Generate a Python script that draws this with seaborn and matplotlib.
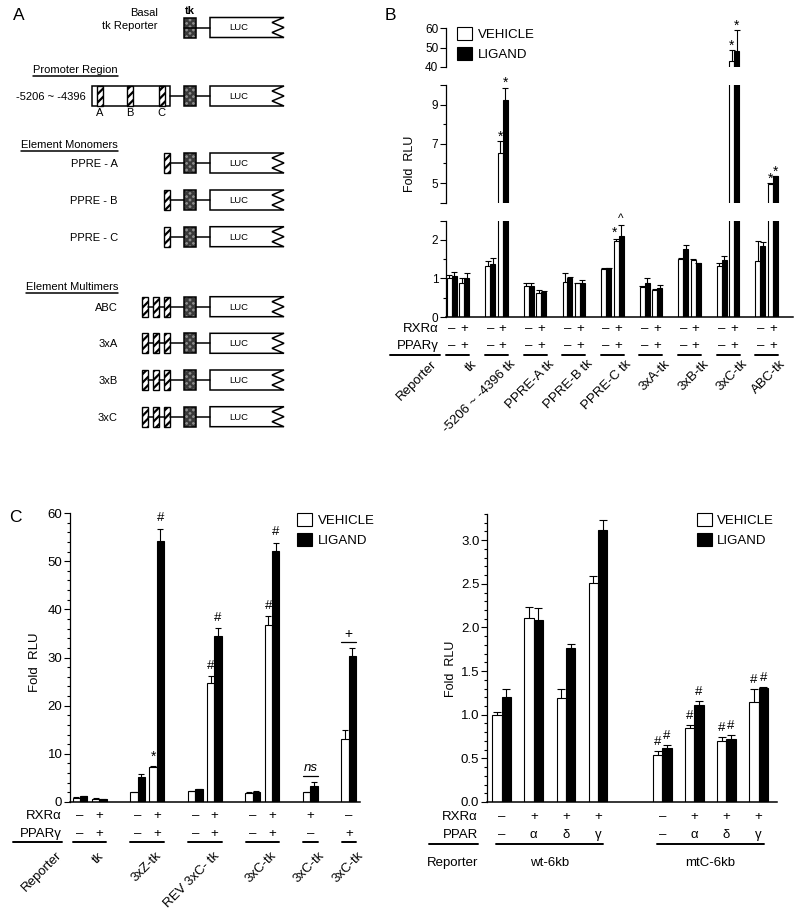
import numpy as np
import pandas as pd
import seaborn as sns
import matplotlib.pyplot as plt
from matplotlib.patches import Rectangle, Polygon
from matplotlib.transforms import blended_transform_factory as blend, offset_copy

# ---------------- data ----------------
# panel B: per reporter two conditions (RXRa, PPARg) = (-,-) then (+,+)
reporters_B = ["tk", "-5206 ~ -4396 tk", "PPRE-A tk", "PPRE-B tk", "PPRE-C tk",
               "3xA-tk", "3xB-tk", "3xC-tk", "ABC-tk"]
pairs_B = [2] * 9
rxr_B = ["–", "+"] * 9
ppar_B = ["–", "+"] * 9
vehicle_B = [1.00, 0.89, 1.33, 6.54, 0.80, 0.63, 0.92, 0.87, 1.24, 1.97,
             0.78, 0.71, 1.51, 1.49, 1.32, 43.0, 1.45, 4.93]
vehicle_err_B = [0.08, 0.11, 0.13, 0.59, 0.07, 0.06, 0.21, 0.01, 0.04, 0.05,
                 0.03, 0.02, 0.01, 0.01, 0.08, 5.8, 0.52, 0.05]
ligand_B = [1.07, 1.00, 1.38, 9.25, 0.80, 0.64, 1.02, 0.89, 1.26, 2.11,
            0.87, 0.74, 1.77, 1.39, 1.47, 48.0, 1.84, 5.34]
ligand_err_B = [0.10, 0.13, 0.14, 0.62, 0.09, 0.03, 0.03, 0.08, 0.01, 0.27,
                0.14, 0.08, 0.09, 0.01, 0.11, 11.0, 0.11, 0.03]
marks_B = [(3, 0, "*"), (3, 1, "*"), (9, 0, "*"), (9, 1, "^"),
           (15, 0, "*"), (15, 1, "*"), (17, 0, "*"), (17, 1, "*")]

# panel C left
reporters_CL = ["tk", "3xZ-tk", "REV 3xC- tk", "3xC-tk", "3xC-tk", "3xC-tk"]
pairs_CL = [2, 2, 2, 2, 1, 1]
rxr_CL = ["–", "+", "–", "+", "–", "+", "–", "+", "+", "–"]
ppar_CL = ["–", "+", "–", "+", "–", "+", "–", "+", "–", "+"]
vehicle_CL = [0.9, 0.7, 2.05, 7.3, 2.25, 24.7, 1.95, 36.7, 2.0, 13.0]
vehicle_err_CL = [0.05, 0.05, 0.1, 0.15, 0.1, 1.4, 0.1, 1.9, 0.1, 1.9]
ligand_CL = [1.24, 0.6, 5.25, 54.1, 2.6, 34.4, 2.1, 52.1, 3.4, 30.4]
ligand_err_CL = [0.1, 0.05, 0.55, 2.6, 0.1, 1.7, 0.1, 1.7, 0.8, 1.5]
marks_CL = [(3, 0, "*"), (3, 1, "#"), (5, 0, "#"), (5, 1, "#"), (7, 0, "#"), (7, 1, "#")]
brackets_CL = [(8, "ns"), (9, "+")]

# panel C right
reporters_CR = ["wt-6kb", "mtC-6kb"]
pairs_CR = [4, 4]
rxr_CR = ["–", "+", "+", "+"] * 2
ppar_CR = ["–", "α", "δ", "γ"] * 2
vehicle_CR = [1.00, 2.11, 1.19, 2.51, 0.54, 0.85, 0.70, 1.15]
vehicle_err_CR = [0.03, 0.12, 0.11, 0.08, 0.05, 0.03, 0.04, 0.15]
ligand_CR = [1.20, 2.08, 1.77, 3.12, 0.62, 1.11, 0.72, 1.31]
ligand_err_CR = [0.09, 0.14, 0.04, 0.11, 0.03, 0.05, 0.05, 0.01]
marks_CR = [(i, t, "#") for i in range(4, 8) for t in (0, 1)]

# ---------------- style ----------------
sns.set_style("ticks", {"axes.edgecolor": "black", "text.color": "black",
                        "xtick.color": "black", "ytick.color": "black"})
plt.rcParams['font.family'] = ['Liberation Sans', 'DejaVu Sans']
plt.rcParams['hatch.linewidth'] = 1.6

FS = 9.5  # labels under the bars, legends
W, H = 800, 910
fig = plt.figure(figsize=(8, 9.1), dpi=100)
canvas = fig.add_axes([0, 0, 1, 1])
canvas.set_xlim(0, W)
canvas.set_ylim(H, 0)
canvas.axis('off')


def px_axes(left, top, right, bottom):
    ax = fig.add_axes([left / W, 1 - bottom / H, (right - left) / W, (bottom - top) / H])
    ax.set_facecolor('none')
    return ax


def slots(sizes, gap):
    pos, start, groups = [], 0.0, []
    for n in sizes:
        groups.append(list(range(len(pos), len(pos) + n)))
        pos += [start + k for k in range(n)]
        start += n - 1 + gap
    return np.array(pos), groups


def draw_bars(ax, pos, veh, veh_err, lig, lig_err, width, cap, lw=0.8):
    df = pd.DataFrame({"pos": np.r_[pos, pos], "fold": np.r_[veh, lig],
                       "treat": ["VEHICLE"] * len(pos) + ["LIGAND"] * len(pos)})
    sns.barplot(data=df, x="pos", y="fold", hue="treat", hue_order=["VEHICLE", "LIGAND"],
                palette={"VEHICLE": "white", "LIGAND": "black"}, native_scale=True,
                width=width, errorbar=None, edgecolor="black", linewidth=lw,
                saturation=1, legend=False, ax=ax)
    bars = list(ax.containers[:2])
    centers, tops = [], []
    for cont, err in zip(bars, [veh_err, lig_err]):
        xs = np.array([p.get_x() + p.get_width() / 2 for p in cont])
        ys = np.array([p.get_height() for p in cont])
        top = ys + np.array(err)
        # one-sided (upper) error bars with a cap
        ax.vlines(xs, ys, top, color="black", lw=lw)
        ax.plot(xs, top, ls="none", marker="_", ms=cap, mew=lw, color="black")
        centers.append(xs)
        tops.append(top)
    ax.set(xlabel="", ylabel="")
    ax.tick_params(axis='x', bottom=False, labelbottom=False)
    return centers, tops


def style_y(ax, major, labels, minor=None, fs=9):
    ax.set_yticks(major)
    ax.set_yticklabels(labels)
    if minor is not None:
        ax.set_yticks(minor, minor=True)
    ax.tick_params(axis='y', which='major', direction='out', length=4, width=0.8, labelsize=fs, pad=1.5)
    ax.tick_params(axis='y', which='minor', direction='out', length=2.2, width=0.8)
    for s in ax.spines.values():
        s.set_linewidth(0.9)


def cond_rows(ax, pos, groups, rows, label_x, line_y, label_line, pad, fs=FS):
    tr = blend(ax.transData, canvas.transData)
    for label, y, vals in rows:
        canvas.text(label_x, y, label, ha='right', va='center', fontsize=fs)
        for x, v in zip(pos, vals):
            ax.text(x, y, v, transform=tr, ha='center', va='center', fontsize=fs)
    canvas.plot(label_line, [line_y, line_y], color='k', lw=1.4)
    for g in groups:
        ax.plot([pos[g[0]] - pad[0], pos[g[-1]] + pad[1]], [line_y, line_y], transform=tr,
                color='k', lw=1.4, clip_on=False)


def rotated_names(ax, pos, groups, names, y, dx, fs=FS):
    tr = offset_copy(blend(ax.transData, canvas.transData), fig=fig, x=dx, y=0, units='dots')
    for g, name in zip(groups, names):
        xc = (pos[g[0]] + pos[g[-1]]) / 2
        ax.text(xc, y, name, transform=tr, rotation=45, rotation_mode='anchor',
                ha='right', va='top', fontsize=fs)


def mark(ax, x, y, s, dy, dx=0, fs=9.5, style='normal'):
    ax.annotate(s, (x, y), xytext=(dx, dy), textcoords='offset pixels',
                ha='center', va='center', fontsize=fs, style=style, annotation_clip=False)


def legend_at(ax, x, y, fs=FS):
    hs = 10.8 / fs
    fig.legend(ax.containers[:2], ["VEHICLE", "LIGAND"], loc='upper left',
               bbox_to_anchor=(x / W, 1 - y / H), frameon=False, fontsize=fs,
               handlelength=hs, handleheight=hs, labelspacing=(15.5 - 10.8) / fs,
               handletextpad=0.42, borderpad=0, borderaxespad=0)


# ---------------- panel A : construct diagrams ----------------
LW = 1.1


def luc(y):
    pts = [(210, y - 10), (284, y - 10), (272, y - 5), (284, y), (272, y + 5),
           (284, y + 10), (210, y + 10)]
    canvas.add_patch(Polygon(pts, closed=True, fc='white', ec='black', lw=LW))
    canvas.text(239, y + 0.5, "LUC", fontsize=6.8, ha='center', va='center')


def tk_box(y):
    canvas.add_patch(Rectangle((184, y - 10), 12, 20, fc='#8c8c8c', ec='#3a3a3a', lw=0,
                               hatch='xxxxx'))
    canvas.add_patch(Rectangle((184, y - 10), 12, 20, fc='none', ec='black', lw=LW))


def element(x, y, w=6.5):
    canvas.add_patch(Rectangle((x, y - 10), w, 20, fc='white', ec='black', lw=LW * 0.9,
                               hatch='////'))


def link(x1, x2, y):
    canvas.plot([x1, x2], [y, y], color='black', lw=LW)


def reporter(y, left):
    link(left, 184, y)
    tk_box(y)
    link(196, 210, y)
    luc(y)


canvas.text(13, 15, "A", fontsize=12.5, ha='left', va='center')
canvas.text(385, 15, "B", fontsize=12.5, ha='left', va='center')
canvas.text(9, 518, "C", fontsize=12.5, ha='left', va='center')

canvas.text(158, 13, "Basal", fontsize=8, ha='right', va='center')
canvas.text(158, 26, "tk Reporter", fontsize=8, ha='right', va='center')
canvas.text(190, 11, "tk", fontsize=8, ha='center', va='center', weight='bold')
reporter(27.5, 196)

headings = [("Promoter Region", 70), ("Element Monomers", 145), ("Element Multimers", 287)]
head_texts = [canvas.text(118, y, t, fontsize=8, ha='right', va='center') for t, y in headings]

y_prom = 96
canvas.text(86, y_prom + 1, "-5206 ~ -4396", fontsize=8, ha='right', va='center')
canvas.add_patch(Rectangle((92, y_prom - 10), 78, 20, fc='white', ec='black', lw=LW))
for xe, lab in [(96.5, "A"), (126.5, "B"), (158.5, "C")]:
    element(xe, y_prom, 6)
    canvas.text(xe + 3, y_prom + 17, lab, fontsize=8, ha='center', va='center')
reporter(y_prom, 170)

for lab, y in [("PPRE - A", 163), ("PPRE - B", 200), ("PPRE - C", 236.7)]:
    canvas.text(118, y + 1, lab, fontsize=8, ha='right', va='center')
    element(163.5, y)
    reporter(y, 170)

for lab, y in [("ABC", 306.7), ("3xA", 343.3), ("3xB", 380), ("3xC", 416.7)]:
    canvas.text(118, y + 1, lab, fontsize=8, ha='right', va='center')
    for xe in (141.5, 152.5, 163.5):
        element(xe, y, 6)
    link(147.5, 152.5, y)
    link(158.5, 163.5, y)
    reporter(y, 169.5)

# ---------------- panel B : broken-axis bar chart ----------------
pos_B, groups_B = slots(pairs_B, 2.1)
ppu_B, org_B = 12.45, 451.7
xl_B = ((446 - org_B) / ppu_B, (793 - org_B) / ppu_B)

ax_top = px_axes(446, 28.3, 793, 66.7)
ax_mid = px_axes(446, 85, 793, 202.7)
ax_lo = px_axes(446, 220.7, 793, 317)
segments = [(ax_top, (40, 60)), (ax_mid, (4, 10)), (ax_lo, (0, 2.5))]
for ax, yl in segments:
    centers_B, tops_B = draw_bars(ax, pos_B, vehicle_B, vehicle_err_B, ligand_B, ligand_err_B,
                                  width=0.8, cap=4)
    ax.set_xlim(*xl_B)
    ax.set_ylim(*yl)
    sns.despine(ax=ax)
    if ax is not ax_lo:
        ax.spines['bottom'].set_visible(False)

style_y(ax_top, [40, 50, 60], ["40", "50", "60"], fs=8.5)
style_y(ax_mid, [4, 5, 7, 9, 10], ["", "5", "7", "9", ""], minor=[6, 8], fs=8.5)
style_y(ax_lo, [0, 1, 2, 2.5], ["0", "1", "2", ""], minor=[0.5, 1.5], fs=8.5)
ax_lo.spines['bottom'].set_linewidth(1.1)

for i, t, s in marks_B:
    x, y = centers_B[t][i], tops_B[t][i]
    ax = next(a for a, yl in segments if yl[0] <= y <= yl[1])
    dy = 6.5 if i == 9 else 4.5
    dx = -2 if (i == 9 and t == 0) else 0
    fs = 10 if s == "*" else 8.5
    mark(ax, x, y, s, dy, dx=dx, fs=fs)

legend_at(ax_lo, 457.3, 26.7)
canvas.text(410, 164, "Fold  RLU", rotation=90, ha='center', va='center', fontsize=9)
cond_rows(ax_lo, pos_B, groups_B, [("RXRα", 329, rxr_B), ("PPARγ", 346, ppar_B)],
          label_x=439, line_y=354.5, label_line=[390, 440], pad=(0.42, 0.42))
rotated_names(ax_lo, pos_B, groups_B, reporters_B, 358, dx=13)
canvas.text(431, 358, "Reporter", rotation=45, rotation_mode='anchor', ha='right', va='top',
            fontsize=FS)

# ---------------- panel C left ----------------
pos_CL, groups_CL = slots(pairs_CL, 2)
ppu_CL, org_CL = 19.2, 80
ax_cl = px_axes(70, 513, 360, 802)
centers_CL, tops_CL = draw_bars(ax_cl, pos_CL, vehicle_CL, vehicle_err_CL, ligand_CL,
                                ligand_err_CL, width=0.77, cap=5)
ax_cl.set_xlim((70 - org_CL) / ppu_CL, (360 - org_CL) / ppu_CL)
ax_cl.set_ylim(0, 60)
sns.despine(ax=ax_cl)
style_y(ax_cl, np.arange(0, 61, 10), [str(v) for v in range(0, 61, 10)],
        minor=np.arange(0, 61, 2), fs=9.5)
ax_cl.spines['bottom'].set_linewidth(1.1)

for i, t, s in marks_CL:
    mark(ax_cl, centers_CL[t][i], tops_CL[t][i], s, 9 if s == "*" else 10.5,
         fs=10 if s == "*" else 9.5)
for i, s in brackets_CL:
    top = max(tops_CL[0][i], tops_CL[1][i])
    y_line = H - (ax_cl.transData.transform((0, top))[1] + 6)
    x0 = ax_cl.transData.transform((pos_CL[i] - 0.4, 0))[0]
    x1 = ax_cl.transData.transform((pos_CL[i] + 0.4, 0))[0]
    canvas.plot([x0, x1], [y_line, y_line], color='k', lw=0.9)
    mark(ax_cl, pos_CL[i], top, s, 14, fs=10 if s == "+" else 9.5,
         style='italic' if s == "ns" else 'normal')

legend_at(ax_cl, 297.3, 513)
canvas.text(35, 662, "Fold  RLU", rotation=90, ha='center', va='center', fontsize=9.5)
cond_rows(ax_cl, pos_CL, groups_CL, [("RXRα", 815.7, rxr_CL), ("PPARγ", 834, ppar_CL)],
          label_x=62, line_y=842, label_line=[13, 62], pad=(0.37, 0.37))
rotated_names(ax_cl, pos_CL, groups_CL, reporters_CL, 850, dx=8)
canvas.text(56, 849, "Reporter", rotation=45, rotation_mode='anchor', ha='right', va='top',
            fontsize=FS)

# ---------------- panel C right ----------------
pos_CR, groups_CR = slots(pairs_CR, 2)
ppu_CR, org_CR = 32.1, 501.7
ax_cr = px_axes(487, 514, 777, 802)
centers_CR, tops_CR = draw_bars(ax_cr, pos_CR, vehicle_CR, vehicle_err_CR, ligand_CR,
                                ligand_err_CR, width=0.58, cap=5.5)
ax_cr.set_xlim((487 - org_CR) / ppu_CR, (777 - org_CR) / ppu_CR)
ax_cr.set_ylim(0, 3.3)
sns.despine(ax=ax_cr)
style_y(ax_cr, np.arange(0, 3.01, 0.5), [f"{v:.1f}" for v in np.arange(0, 3.01, 0.5)],
        minor=np.arange(0, 3.31, 0.1), fs=9.5)
ax_cr.spines['bottom'].set_linewidth(1.1)
for i, t, s in marks_CR:
    mark(ax_cr, centers_CR[t][i], tops_CR[t][i], s, 9, fs=9.5)

legend_at(ax_cr, 696.7, 513)
canvas.text(451, 669, "Fold  RLU", rotation=90, ha='center', va='center', fontsize=9)
cond_rows(ax_cr, pos_CR, groups_CR, [("RXRα", 817, rxr_CR), ("PPAR", 835, ppar_CR)],
          label_x=478, line_y=844, label_line=[429, 478], pad=(0.17, 0.17))
canvas.text(478, 863, "Reporter", ha='right', va='center', fontsize=FS)
tr_cr = blend(ax_cr.transData, canvas.transData)
for g, name in zip(groups_CR, reporters_CR):
    ax_cr.text((pos_CR[g[0]] + pos_CR[g[-1]]) / 2, 863, name, transform=tr_cr,
               ha='center', va='center', fontsize=FS)

# underline the headings of panel A
fig.canvas.draw()
inv = canvas.transData.inverted()
for txt in head_texts:
    bb = txt.get_window_extent()
    (x0, y0), (x1, _) = inv.transform([(bb.x0, bb.y0), (bb.x1, bb.y1)])
    canvas.plot([x0, x1], [y0 + 1, y0 + 1], color='k', lw=1.1)

fig.savefig("out.png", dpi=100)
